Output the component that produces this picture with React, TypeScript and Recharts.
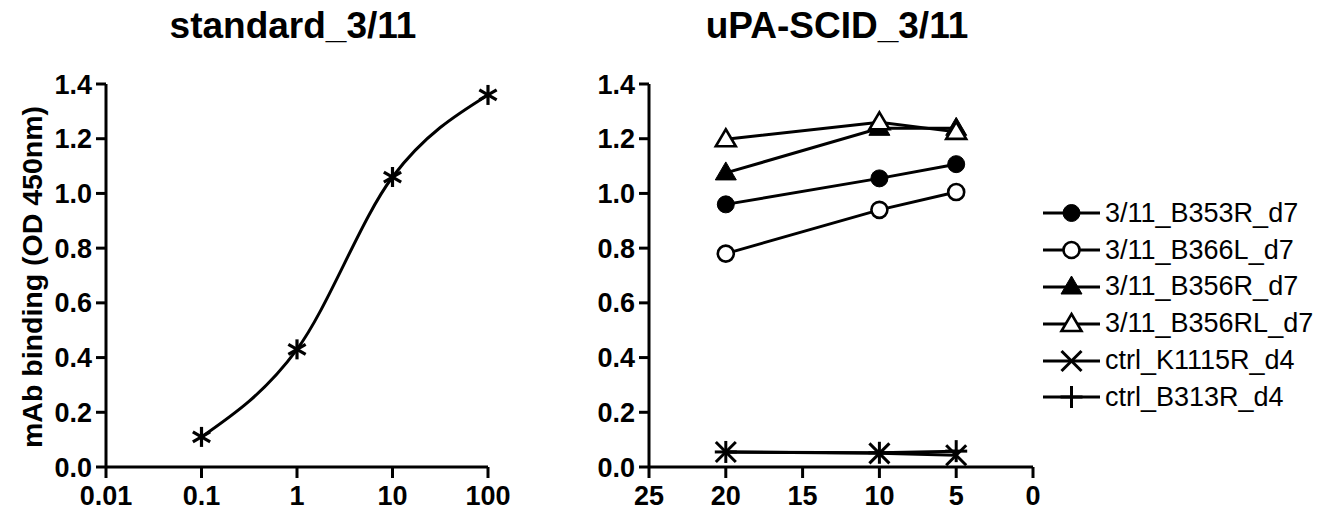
import React from 'react';
import { LineChart, Line, XAxis, YAxis, Legend } from 'recharts';

// ---------- data ----------
const stdConc = [0.1, 1, 10, 100];
const stdOD = [0.11, 0.43, 1.06, 1.36];

const dilutions = [20, 10, 5];
const b353r = [0.96, 1.055, 1.107];
const b366l = [0.78, 0.94, 1.005];
const b356r = [1.075, 1.238, 1.238];
const b356rl = [1.198, 1.26, 1.225];
const k1115r = [0.055, 0.05, 0.043];
const b313r = [0.055, 0.052, 0.058];

const yTicks = [0, 0.2, 0.4, 0.6, 0.8, 1.0, 1.2, 1.4];
const stdXTicks = [0.01, 0.1, 1, 10, 100];
const dilXTicks = [25, 20, 15, 10, 5, 0];

const series = [
  { key: 'b353r', name: '3/11_B353R_d7', values: b353r, shape: 'circleFilled' },
  { key: 'b366l', name: '3/11_B366L_d7', values: b366l, shape: 'circleOpen' },
  { key: 'b356r', name: '3/11_B356R_d7', values: b356r, shape: 'triFilled' },
  { key: 'b356rl', name: '3/11_B356RL_d7', values: b356rl, shape: 'triOpen' },
  { key: 'k1115r', name: 'ctrl_K1115R_d4', values: k1115r, shape: 'cross' },
  { key: 'b313r', name: 'ctrl_B313R_d4', values: b313r, shape: 'plus' },
];

const stdData = stdConc.map((c, i) => ({ conc: c, od: stdOD[i] }));
const dilData = dilutions.map((d, i) => {
  const row: any = { dil: d };
  series.forEach((s) => (row[s.key] = s.values[i]));
  return row;
});

// ---------- styles ----------
const FONT = '"Liberation Sans", Arial, Helvetica, sans-serif';
const axisStyle = { stroke: '#000', strokeWidth: 3 };
const tickStyle = { fill: '#000', fontSize: 27, fontWeight: 'bold', fontFamily: FONT };

function Marker({ cx, cy, shape }: { cx: number; cy: number; shape: string }) {
  const sw = 2.6;
  switch (shape) {
    case 'circleFilled':
      return <circle cx={cx} cy={cy} r={8.5} fill="#000" stroke="#000" strokeWidth={1} />;
    case 'circleOpen':
      return <circle cx={cx} cy={cy} r={8} fill="#fff" stroke="#000" strokeWidth={sw} />;
    case 'triFilled':
      return (
        <polygon
          points={`${cx},${cy - 11} ${cx + 10.5},${cy + 7} ${cx - 10.5},${cy + 7}`}
          fill="#000"
          stroke="#000"
          strokeWidth={1}
        />
      );
    case 'triOpen':
      return (
        <polygon
          points={`${cx},${cy - 10} ${cx + 10},${cy + 7} ${cx - 10},${cy + 7}`}
          fill="#fff"
          stroke="#000"
          strokeWidth={sw}
          strokeLinejoin="miter"
        />
      );
    case 'cross':
      return (
        <g stroke="#000" strokeWidth={3}>
          <line x1={cx - 10} y1={cy - 10} x2={cx + 10} y2={cy + 10} />
          <line x1={cx - 10} y1={cy + 10} x2={cx + 10} y2={cy - 10} />
        </g>
      );
    case 'plus':
      return (
        <g stroke="#000" strokeWidth={3}>
          <line x1={cx} y1={cy - 11} x2={cx} y2={cy + 11} />
          <line x1={cx - 11} y1={cy} x2={cx + 11} y2={cy} />
        </g>
      );
    case 'asterisk': {
      const r = 10;
      const dx = r * Math.cos(Math.PI / 6);
      const dy = r * Math.sin(Math.PI / 6);
      return (
        <g stroke="#000" strokeWidth={3.2}>
          <line x1={cx} y1={cy - r} x2={cx} y2={cy + r} />
          <line x1={cx - dx} y1={cy - dy} x2={cx + dx} y2={cy + dy} />
          <line x1={cx - dx} y1={cy + dy} x2={cx + dx} y2={cy - dy} />
        </g>
      );
    }
    default:
      return null;
  }
}

function LegendBox() {
  return (
    <div style={{ fontFamily: FONT, fontSize: 27, color: '#000' }}>
      {series.map((s) => (
        <div key={s.key} style={{ display: 'flex', alignItems: 'center', height: 36.8 }}>
          <svg width={62} height={30} style={{ display: 'block' }}>
            <line x1={3} y1={15} x2={60} y2={15} stroke="#000" strokeWidth={3} />
            <Marker cx={31.5} cy={15} shape={s.shape} />
          </svg>
          <span style={{ marginLeft: 3, whiteSpace: 'nowrap', lineHeight: 1 }}>{s.name}</span>
        </div>
      ))}
    </div>
  );
}

const titleStyle: React.CSSProperties = {
  position: 'absolute',
  top: 4,
  transform: 'translateX(-50%)',
  fontFamily: FONT,
  fontWeight: 'bold',
  fontSize: 37,
  whiteSpace: 'nowrap',
  color: '#000',
  lineHeight: 1.2,
};

export default function App() {
  return (
    <div style={{ position: 'absolute', left: 0, top: 0, width: 1334, height: 520, background: '#fff', overflow: 'hidden' }}>
      <div style={{ ...titleStyle, left: 293 }}>standard_3/11</div>
      <div style={{ ...titleStyle, left: 837 }}>uPA-SCID_3/11</div>
      <div
        style={{
          position: 'absolute',
          left: 32,
          top: 277,
          transform: 'translate(-50%, -50%) rotate(-90deg)',
          fontFamily: FONT,
          fontWeight: 'bold',
          fontSize: 28.5,
          whiteSpace: 'nowrap',
          color: '#000',
          lineHeight: 1,
        }}
      >
        mAb binding (OD 450nm)
      </div>

      <div style={{ position: 'absolute', left: 0, top: 0 }}>
        <LineChart width={520} height={520} data={stdData} margin={{ top: 84, right: 32, bottom: 23, left: 46 }}>
          <XAxis
            dataKey="conc"
            type="number"
            scale="log"
            domain={[0.01, 100]}
            ticks={stdXTicks}
            axisLine={axisStyle}
            tickLine={axisStyle}
            tick={tickStyle}
            tickSize={11}
            tickMargin={8}
            height={30}
            interval={0}
          />
          <YAxis
            type="number"
            domain={[0, 1.4]}
            ticks={yTicks}
            tickFormatter={(v: number) => v.toFixed(1)}
            axisLine={axisStyle}
            tickLine={axisStyle}
            tick={tickStyle}
            tickSize={10}
            tickMargin={4}
            width={60}
            interval={0}
          />
          <Line
            dataKey="od"
            type="monotone"
            stroke="#000"
            strokeWidth={3}
            isAnimationActive={false}
            dot={(p: any) => <Marker key={`s-${p.index}`} cx={p.cx} cy={p.cy} shape="asterisk" />}
            activeDot={false}
          />
        </LineChart>
      </div>

      <div style={{ position: 'absolute', left: 540, top: 0 }}>
        <LineChart width={794} height={520} data={dilData} margin={{ top: 84, right: 301, bottom: 23, left: 49 }}>
          <XAxis
            dataKey="dil"
            type="number"
            domain={[0, 25]}
            reversed
            ticks={dilXTicks}
            axisLine={axisStyle}
            tickLine={axisStyle}
            tick={tickStyle}
            tickSize={11}
            tickMargin={8}
            height={30}
            interval={0}
          />
          <YAxis
            type="number"
            domain={[0, 1.4]}
            ticks={yTicks}
            tickFormatter={(v: number) => v.toFixed(1)}
            axisLine={axisStyle}
            tickLine={axisStyle}
            tick={tickStyle}
            tickSize={10}
            tickMargin={4}
            width={60}
            interval={0}
          />
          {series.map((s) => (
            <Line
              key={s.key}
              dataKey={s.key}
              name={s.name}
              type="linear"
              stroke="#000"
              strokeWidth={3}
              isAnimationActive={false}
              dot={(p: any) => <Marker key={`${s.key}-${p.index}`} cx={p.cx} cy={p.cy} shape={s.shape} />}
              activeDot={false}
            />
          ))}
          <Legend
            layout="vertical"
            align="center"
            verticalAlign="middle"
            content={() => <LegendBox />}
            wrapperStyle={{ position: 'absolute', left: 500, top: 195, width: 294 }}
          />
        </LineChart>
      </div>
    </div>
  );
}
